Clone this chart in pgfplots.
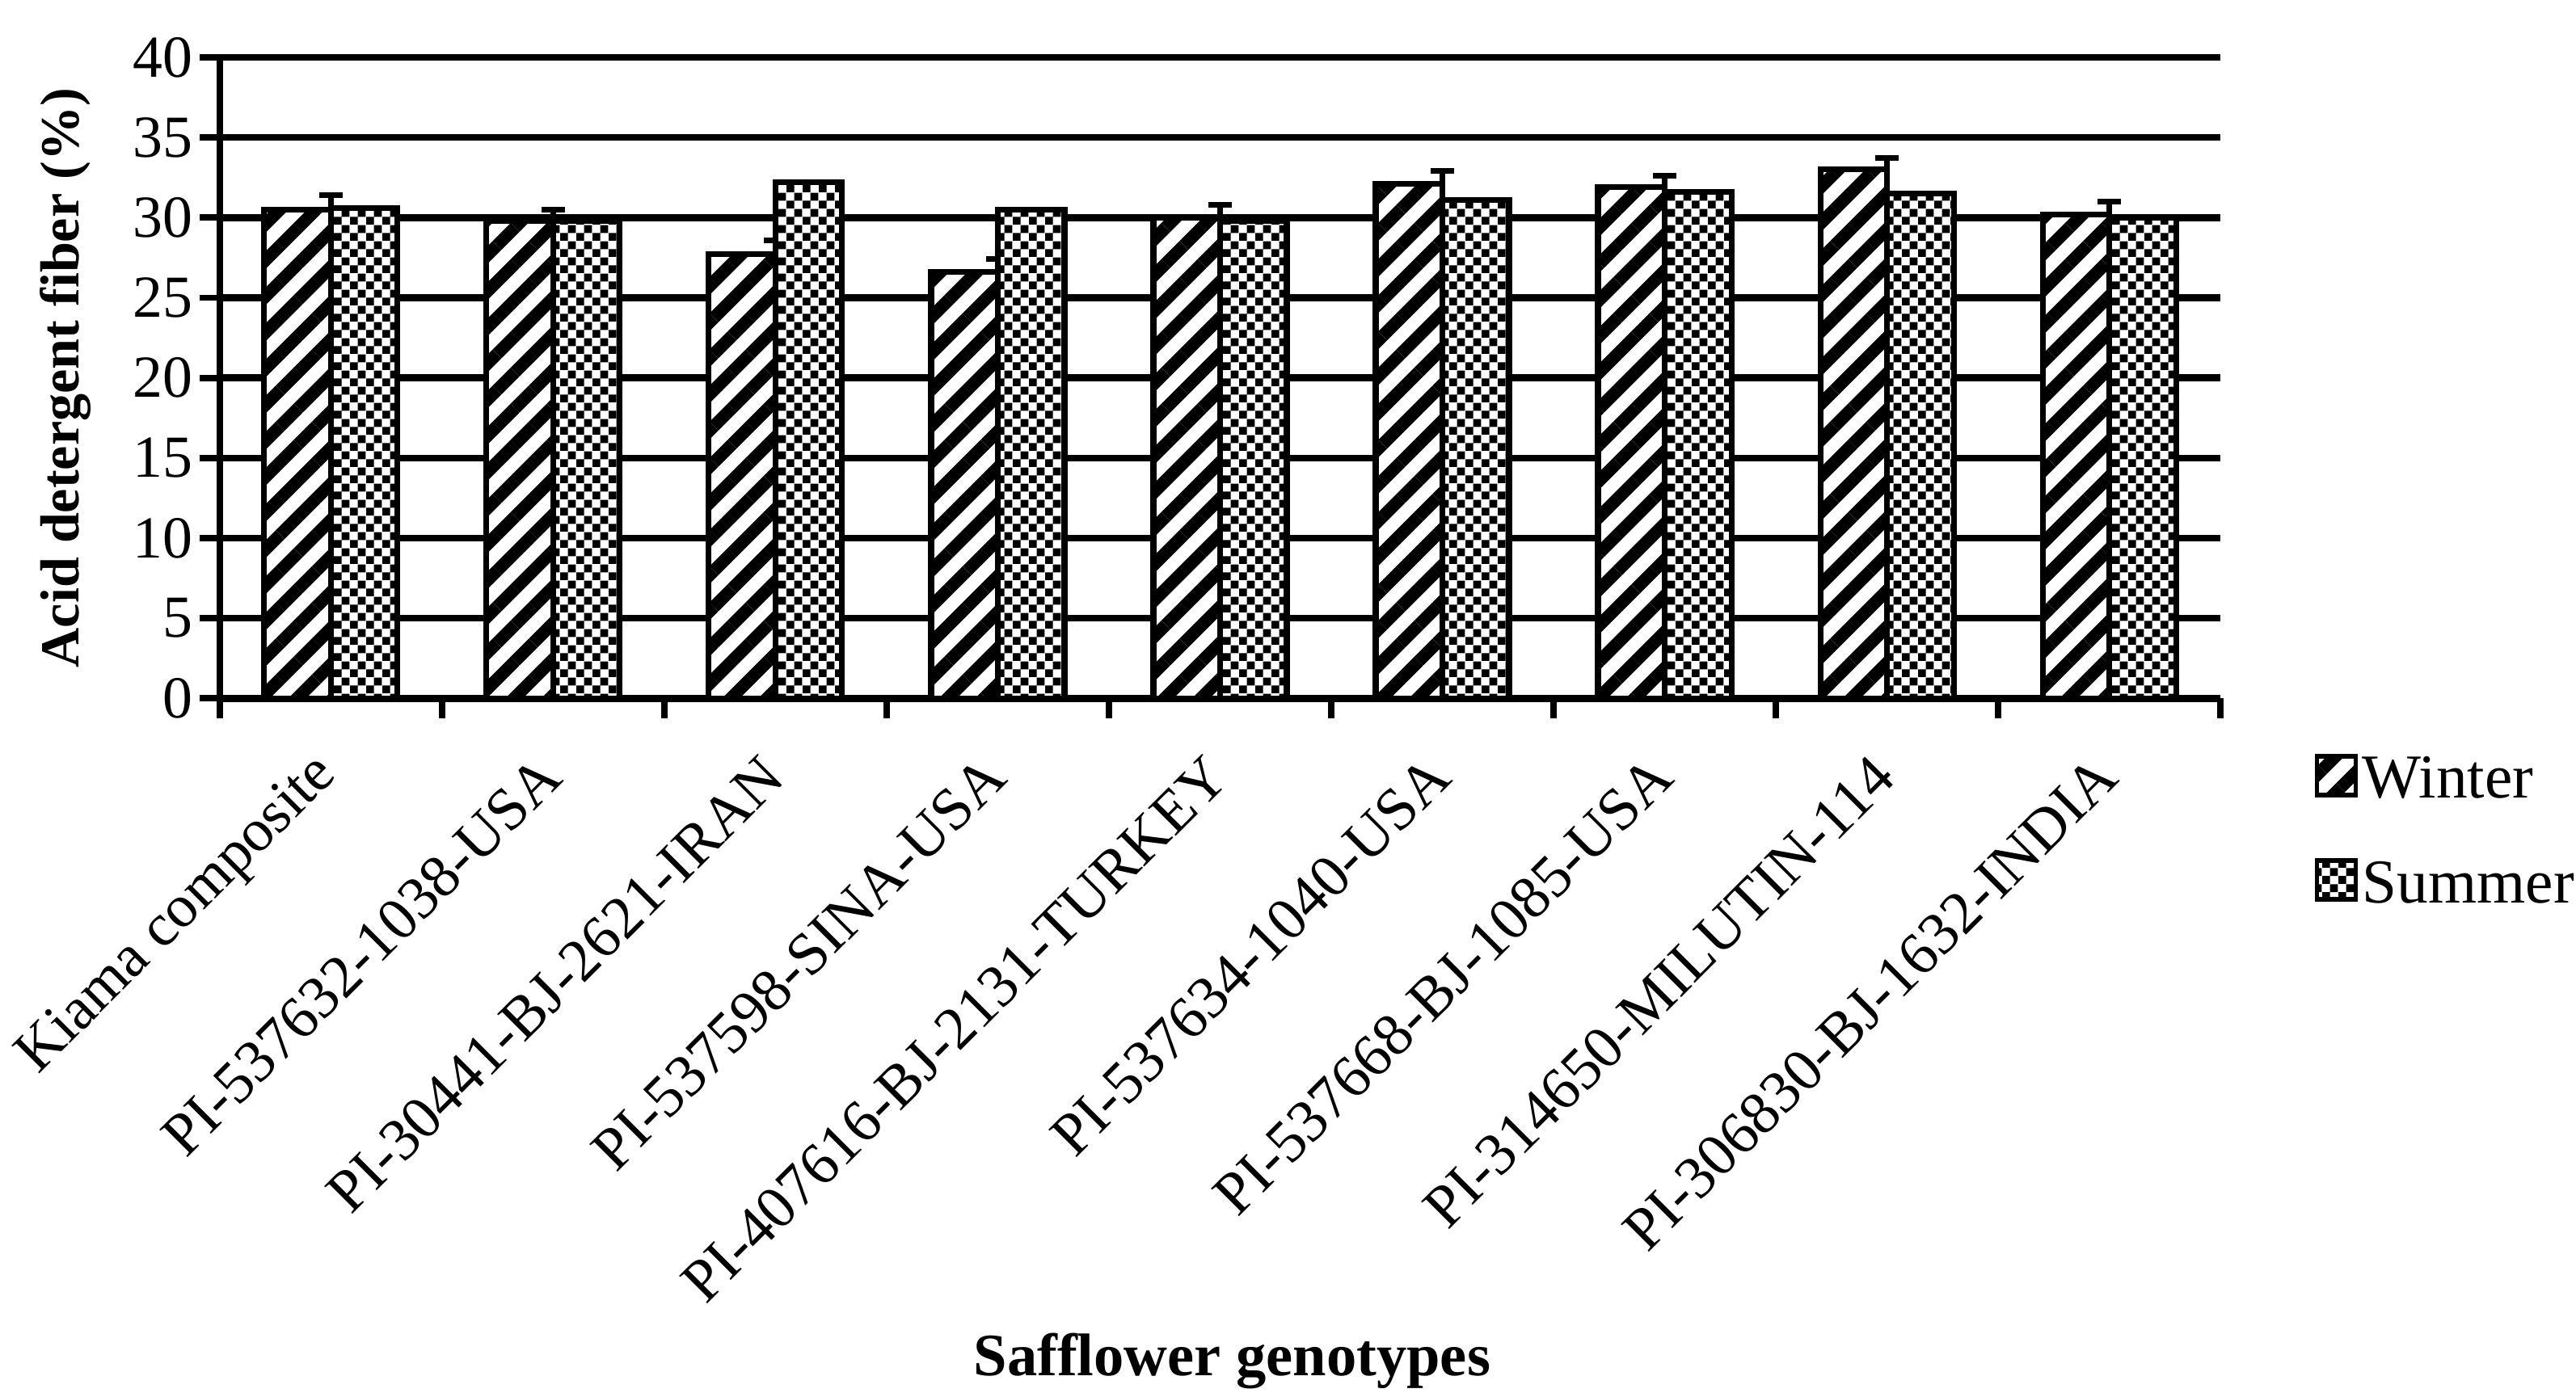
\documentclass[border=0pt]{standalone}
\usepackage{fontspec}
\setmainfont{Liberation Serif}
\usepackage{pgfplots}
\usepackage{pgfplotstable}
\pgfplotsset{compat=1.18}
\usetikzlibrary{patterns,patterns.meta}

\pgfdeclarepatternformonly{smallcheck}{\pgfpointorigin}{\pgfqpoint{2.8pt}{2.8pt}}{\pgfqpoint{2.8pt}{2.8pt}}{%
  \pgfpathrectangle{\pgfpointorigin}{\pgfqpoint{1.4pt}{1.4pt}}%
  \pgfpathrectangle{\pgfqpoint{1.4pt}{1.4pt}}{\pgfqpoint{1.4pt}{1.4pt}}%
  \pgfusepath{fill}}

\pgfplotstableread{
x w werr s
0 30.5 0.9 30.6
1 29.8 0.7 29.8
2 27.7 0.9 32.2
3 26.6 0.8 30.5
4 30.0 0.8 29.8
5 32.1 0.8 31.1
6 31.9 0.7 31.6
7 33.0 0.7 31.5
8 30.2 0.8 30.0
}\data

\begin{document}
\begin{tikzpicture}
\begin{axis}[
  at={(38.7pt,122.3pt)}, anchor=south west,
  scale only axis, width=352.2pt, height=112.9pt,
  xmin=-0.5, xmax=8.5, ymin=0, ymax=40,
  axis x line=bottom, axis y line=left,
  axis line style={-, line width=1.1pt},
  ytick={0,5,...,40},
  ymajorgrids, grid style={black, line width=1.2pt},
  /pgf/number format/assume math mode=true,
  y tick label style={font=\fontsize{10.5}{12}\selectfont, xshift=2.3pt},
  tick align=outside, major tick length=3.5pt,
  tick style={black, line width=1.1pt},
  xtick={-0.5,0.5,...,8.5}, xticklabels={},
  extra x ticks={0,1,2,3,4,5,6,7,8},
  extra x tick labels={Kiama composite, PI-537632-1038-USA, PI-30441-BJ-2621-IRAN, PI-537598-SINA-USA, PI-407616-BJ-2131-TURKEY, PI-537634-1040-USA, PI-537668-BJ-1085-USA, PI-314650-MILUTIN-114, PI-306830-BJ-1632-INDIA},
  extra x tick style={tick style={draw=none}, grid=none,
     tick label style={rotate=45, anchor=east, inner sep=0pt, font=\fontsize{10.6}{12}\selectfont, xshift=-6.2pt, yshift=-5.7pt}},
  xlabel={Safflower genotypes},
  every axis x label/.style={at={(axis description cs:0.506,-1.0337)}, anchor=center, font=\bfseries\fontsize{10.6}{12}\selectfont},
  ylabel={Acid detergent fiber (\%)},
  every axis y label/.style={at={(axis description cs:-0.077,0.5)}, anchor=center, rotate=90, font=\bfseries\fontsize{9.7}{11}\selectfont},
  legend style={at={(axis description cs:1.0466,-0.0824)}, anchor=north west, draw=none, fill=none, inner sep=0pt, row sep=8pt, font=\fontsize{11}{13}\selectfont, nodes={inner sep=0.8pt}},
  legend cell align=left,
  legend image code/.code={\draw[#1, line width=0.8pt] (0pt,-2.3pt) rectangle (6.8pt,4.5pt);},
]
\addplot[ybar, bar width=0.3, bar shift=-0.15, draw=black, line width=1pt, fill=white,
  postaction={pattern={Lines[angle=45,distance=4.5pt,line width=2.2pt]}},
  error bars/.cd, y dir=plus, y explicit,
  error bar style={line width=1pt, black},
  error mark options={rotate=90, mark size=2pt, line width=1pt, black}]
  table[x=x, y=w, y error=werr]{\data};
\addlegendentry{Winter}
\addplot[ybar, bar width=0.3, bar shift=0.15, draw=black, line width=1pt, fill=white,
  postaction={pattern=smallcheck}]
  table[x=x, y=s]{\data};
\addlegendentry{Summer}
\end{axis}
\pgfresetboundingbox
\useasboundingbox (0,0) rectangle (453.5pt,245.3pt);
\end{tikzpicture}
\end{document}
